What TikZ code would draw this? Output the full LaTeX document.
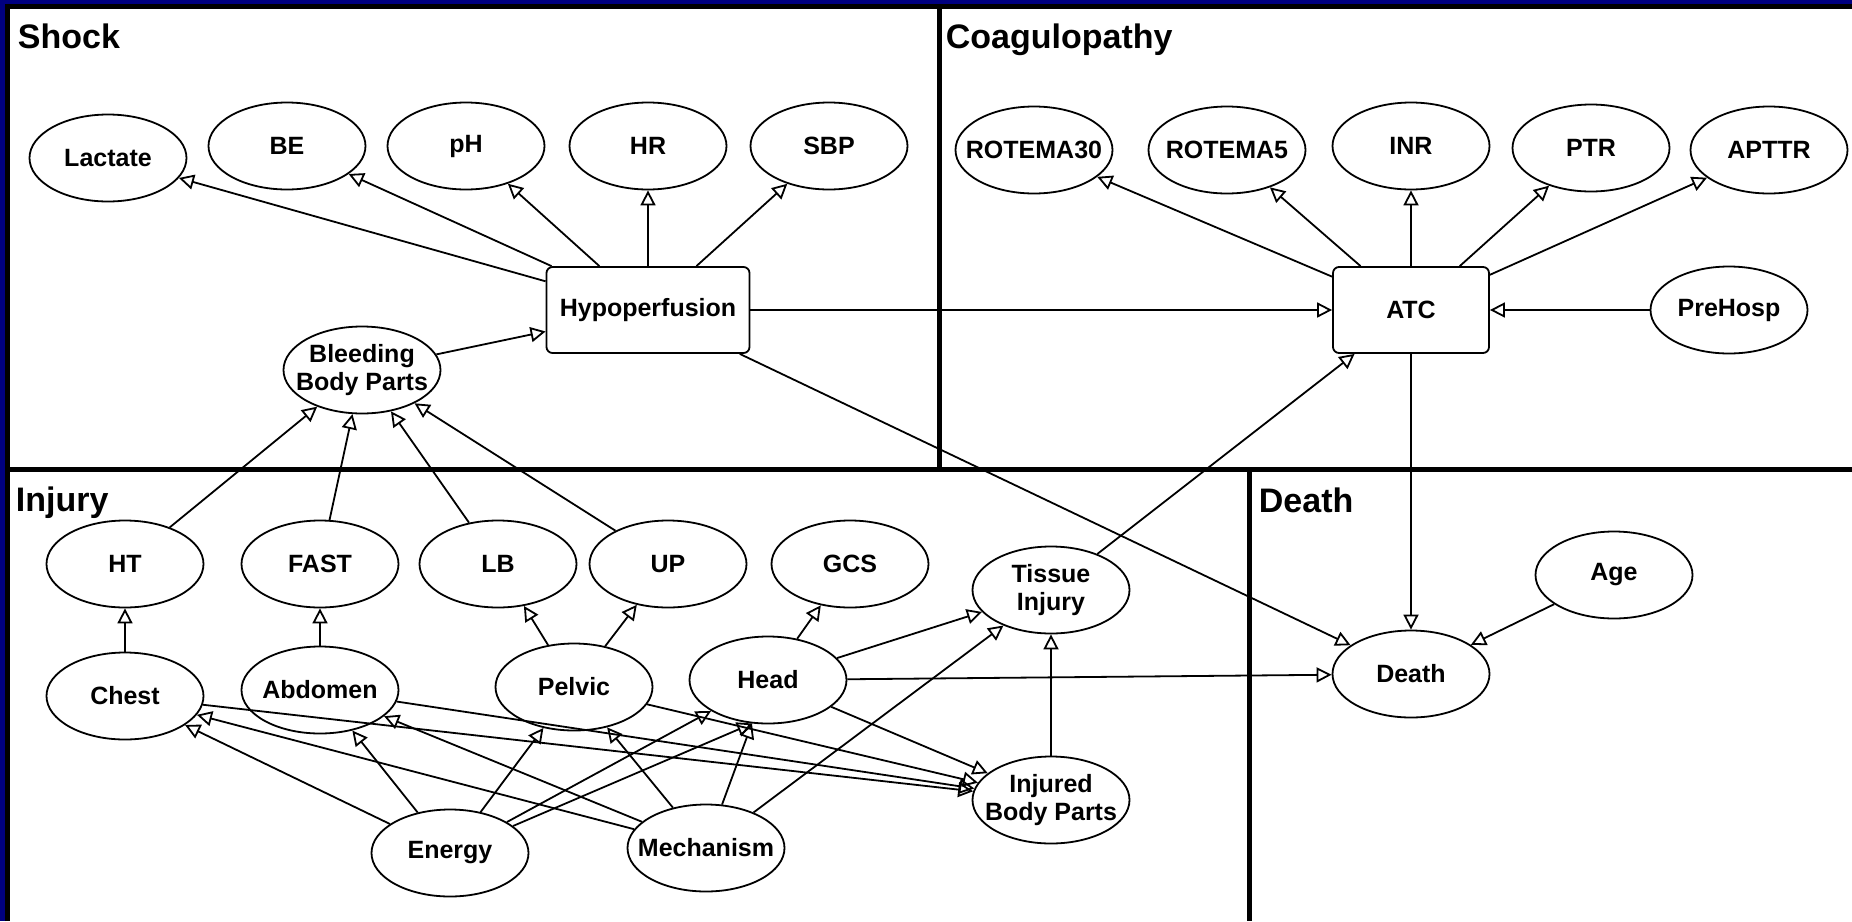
\documentclass[tikz,border=0pt]{standalone}
\usepackage{fontspec}
\setmainfont{Liberation Sans}
\usepackage{tikz}
\usetikzlibrary{arrows.meta,shapes.geometric}
\definecolor{framenavy}{RGB}{0,0,128}
\tikzset{
every picture/.style={line width=1.8pt},
var/.style={draw, ellipse, fill=white, minimum width=157pt, minimum height=87pt, inner xsep=-14pt, inner ysep=0pt, align=center, font=\fontsize{25}{28}\selectfont\bfseries},
hub/.style={draw, rounded corners=6pt, fill=white, minimum height=86pt, inner sep=0pt, font=\fontsize{25}{28}\selectfont\bfseries},
link/.style={-{Triangle[open, length=15pt, width=15pt]}},
group/.style={anchor=base west, inner sep=0pt, font=\fontsize{34}{40}\selectfont\bfseries}
}

\begin{document}
\begin{tikzpicture}[x=1pt, y=-1pt]
    \useasboundingbox (0,0) rectangle (1852,921);
    % frame and the four risk objects
    \fill[framenavy] (0,0) rectangle (1852,4);
    \fill[framenavy] (0,0) rectangle (5,921);
    \draw[line width=5pt] (7.5,921) -- (7.5,6.5) -- (1852,6.5);
    \draw[line width=5pt] (939,6.5) -- (939,469);
    \draw[line width=5pt] (7.5,469) -- (1852,469);
    \draw[line width=5pt] (1249,469) -- (1249,921);
    \node[group] (tshock) at (17,48) {Shock};
    \node[group] (tcoag) at (945,48) {Coagulopathy};
    \node[group] (tinjury) at (15,511) {Injury};
    \node[group] (tdeath) at (1258,512) {Death};

    % shock
    \node[var] (lactate) at (108,158) {Lactate};
    \node[var] (be) at (287,146) {BE};
    \node[var] (ph) at (466,146) {pH};
    \node[var] (hr) at (648,146) {HR};
    \node[var] (sbp) at (829,146) {SBP};
    \node[hub, minimum width=203pt] (hypo) at (648,310) {Hypoperfusion};
    \node[var] (bbp) at (362,370) {Bleeding\\Body Parts};

    % coagulopathy
    \node[var] (rotem30) at (1034,150) {ROTEMA30};
    \node[var] (rotem5) at (1227,150) {ROTEMA5};
    \node[var] (inr) at (1411,146) {INR};
    \node[var] (ptr) at (1591,148) {PTR};
    \node[var] (apttr) at (1769,150) {APTTR};
    \node[hub, minimum width=156pt] (atc) at (1411,310) {ATC};
    \node[var] (prehosp) at (1729,310) {PreHosp};

    % injury
    \node[var] (ht) at (125,564) {HT};
    \node[var] (fast) at (320,564) {FAST};
    \node[var] (lb) at (498,564) {LB};
    \node[var] (up) at (668,564) {UP};
    \node[var] (gcs) at (850,564) {GCS};
    \node[var] (tissue) at (1051,590) {Tissue\\Injury};
    \node[var] (chest) at (125,696) {Chest};
    \node[var] (abdomen) at (320,690) {Abdomen};
    \node[var] (pelvic) at (574,687) {Pelvic};
    \node[var] (head) at (768,680) {Head};
    \node[var] (ibp) at (1051,800) {Injured\\Body Parts};
    \node[var] (energy) at (450,853) {Energy};
    \node[var] (mech) at (706,848) {Mechanism};

    % death
    \node[var] (age) at (1614,575) {Age};
    \node[var] (death) at (1411,674) {Death};

    \foreach \t in {lactate,be,ph,hr,sbp}
      \draw[link] (hypo) -- (\t);
    \foreach \t in {rotem30,rotem5,inr,ptr,apttr}
      \draw[link] (atc) -- (\t);
    \foreach \s in {ht,fast,lb,up}
      \draw[link] (\s) -- (bbp);
    \foreach \s in {chest,abdomen,pelvic,head}
      \draw[link] (\s) -- (ibp);
    \foreach \t in {chest,abdomen,pelvic,head}
      \draw[link] (energy) -- (\t);
    \foreach \t in {chest,abdomen,pelvic,head,tissue}
      \draw[link] (mech) -- (\t);
    \draw[link] (energy) -- (head.250);
    \draw[link] (bbp) -- (hypo);
    \draw[link] (hypo) -- (atc);
    \draw[link] (hypo) -- (death);
    \draw[link] (prehosp) -- (atc);
    \draw[link] (tissue) -- (atc);
    \draw[link] (atc) -- (death);
    \draw[link] (age) -- (death);
    \draw[link] (head) -- (death);
    \draw[link] (chest) -- (ht);
    \draw[link] (abdomen) -- (fast);
    \draw[link] (pelvic) -- (lb);
    \draw[link] (pelvic) -- (up);
    \draw[link] (head) -- (gcs);
    \draw[link] (head) -- (tissue);
    \draw[link] (ibp) -- (tissue);
\end{tikzpicture}
\end{document}
